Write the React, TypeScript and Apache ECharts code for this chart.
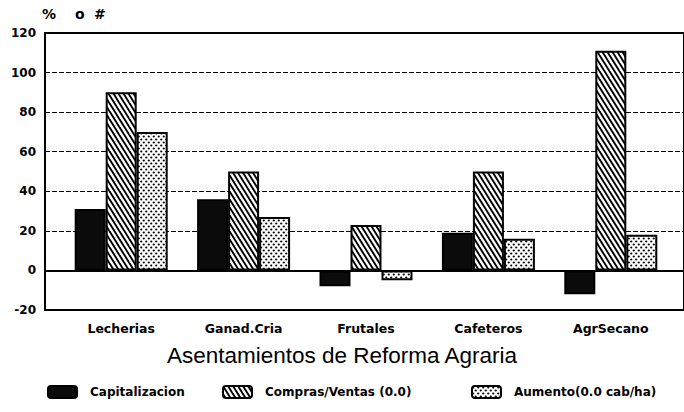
import React, { useEffect, useRef } from "react";
import * as echarts from "echarts";

const categories = ["Lecherias", "Ganad.Cria", "Frutales", "Cafeteros", "AgrSecano"];
const seriesNames = ["Capitalizacion", "Compras/Ventas (0.0)", "Aumento(0.0 cab/ha)"];
const capitalizacion = [31, 36, -8, 19, -12];
const comprasVentas = [90, 50, 23, 50, 111];
const aumento = [70, 27, -5, 16, 18];
const yMin = -20;
const yMax = 120;
const yStep = 20;
const xTitle = "Asentamientos de Reforma Agraria";

function stripePattern() {
  const w = 10;
  const h = 16;
  const c = document.createElement("canvas");
  c.width = w;
  c.height = h;
  const ctx = c.getContext("2d")!;
  ctx.fillStyle = "#fff";
  ctx.fillRect(0, 0, w, h);
  ctx.strokeStyle = "#000";
  ctx.lineWidth = 1.9;
  for (let x0 = -30; x0 <= 30; x0 += 5) {
    ctx.beginPath();
    ctx.moveTo(x0 - w * 0.5, -h * 0.5);
    ctx.lineTo(x0 + w * 1.5, h * 1.5);
    ctx.stroke();
  }
  return { image: c.toDataURL(), repeat: "repeat", imageWidth: w, imageHeight: h };
}

function dotPattern() {
  const w = 5;
  const h = 6;
  const c = document.createElement("canvas");
  c.width = w;
  c.height = h;
  const ctx = c.getContext("2d")!;
  ctx.fillStyle = "#fff";
  ctx.fillRect(0, 0, w, h);
  ctx.fillStyle = "#000";
  const pts = [
    [1.25, 1.5],
    [3.75, 4.5],
  ];
  for (const [x, y] of pts) {
    ctx.beginPath();
    ctx.arc(x, y, 1.1, 0, Math.PI * 2);
    ctx.fill();
  }
  return { image: c.toDataURL(), repeat: "repeat", imageWidth: w, imageHeight: h };
}

export default function App() {
  const ref = useRef<HTMLDivElement>(null);
  useEffect(() => {
    document.body.style.margin = "0";
    const chart = echarts.init(ref.current!, undefined, { renderer: "svg" });
    const stripes = stripePattern();
    const dots = dotPattern();
    const font = "DejaVu Sans";
    const legendBase = {
      top: 385,
      padding: 0,
      itemWidth: 29,
      itemHeight: 12,
      itemGap: 0,
      textStyle: { fontFamily: font, fontWeight: "bold", fontSize: 12, color: "#000", padding: [0, 0, 0, 8] },
    };
    const barBase = {
      type: "bar",
      xAxisIndex: 1,
      yAxisIndex: 1,
      barWidth: 31,
      barGap: "0%",
    };
    const option: any = {
      animation: false,
      backgroundColor: "#fff",
      title: {
        text: xTitle,
        left: "center",
        top: 339,
        textStyle: { fontFamily: "Liberation Sans", fontWeight: "normal", fontSize: 22.5, color: "#000" },
      },
      grid: [
        { left: 45, right: -3, top: 33, bottom: 102, show: true, borderColor: "#000", borderWidth: 2, backgroundColor: "transparent" },
        { left: 60, right: 12, top: 33, bottom: 102 },
      ],
      xAxis: [
        {
          gridIndex: 0,
          type: "value",
          min: 0,
          max: 1,
          axisLine: { onZero: true, lineStyle: { color: "#000", width: 2 } },
          axisTick: { show: false },
          axisLabel: { show: false },
          splitLine: { show: false },
        },
        {
          gridIndex: 1,
          type: "category",
          data: categories,
          axisLine: { show: false },
          axisTick: { show: false },
          splitLine: { show: false },
          axisLabel: { margin: 12, fontFamily: font, fontWeight: "bold", fontSize: 12.5, color: "#000" },
        },
      ],
      yAxis: [
        {
          gridIndex: 0,
          type: "value",
          min: yMin,
          max: yMax,
          interval: yStep,
          axisLine: { show: true, lineStyle: { color: "#000", width: 2 } },
          axisTick: { show: false },
          axisLabel: { margin: 9, fontFamily: font, fontWeight: "bold", fontSize: 12, color: "#000" },
          splitLine: { show: true, lineStyle: { color: "#000", width: 1, type: [5, 2] } },
        },
        { gridIndex: 1, type: "value", min: yMin, max: yMax, interval: yStep, show: false, splitLine: { show: false } },
      ],
      legend: [
        { ...legendBase, left: 47, data: [seriesNames[0]] },
        { ...legendBase, left: 222, data: [seriesNames[1]] },
        { ...legendBase, left: 471, data: [seriesNames[2]] },
      ],
      graphic: [
        { type: "text", left: 42, top: 7, style: { text: "%", font: `bold 14px ${font}`, fill: "#000" } },
        { type: "text", left: 75, top: 7, style: { text: "o", font: `bold 14px ${font}`, fill: "#000" } },
        { type: "text", left: 94, top: 7, style: { text: "#", font: `bold 14px ${font}`, fill: "#000" } },
      ],
      series: [
        {
          ...barBase,
          name: seriesNames[0],
          data: capitalizacion,
          itemStyle: { color: "#0b0b0b", borderColor: "#000", borderWidth: 2 },
        },
        {
          ...barBase,
          name: seriesNames[1],
          data: comprasVentas,
          itemStyle: { color: stripes, borderColor: "#000", borderWidth: 2 },
        },
        {
          ...barBase,
          name: seriesNames[2],
          data: aumento,
          itemStyle: { color: dots, borderColor: "#000", borderWidth: 2 },
        },
      ],
    };
    chart.setOption(option);
    return () => chart.dispose();
  }, []);
  return <div ref={ref} style={{ width: 684, height: 412, position: "absolute", left: 0, top: 0 }} />;
}
